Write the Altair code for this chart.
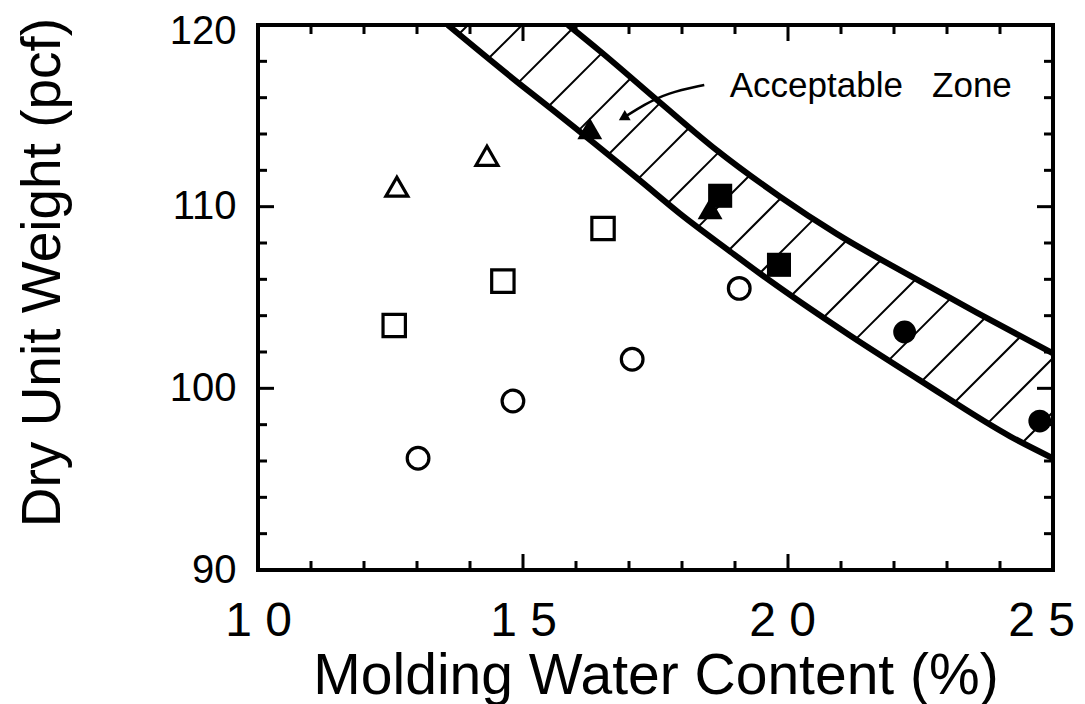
import numpy as np
import pandas as pd
import altair as alt

# ---------------- data ----------------
open_tri_x = [12.62, 14.32]
open_tri_y = [111.1, 112.8]
open_sq_x = [12.57, 14.62, 16.51]
open_sq_y = [103.46, 105.9, 108.8]
open_circ_x = [13.02, 14.81, 17.06, 19.08]
open_circ_y = [96.15, 99.3, 101.6, 105.5]
fill_tri_x = [16.26, 18.53]
fill_tri_y = [114.3, 109.9]
fill_sq_x = [18.72, 19.83]
fill_sq_y = [110.6, 106.8]
fill_circ_x = [22.2, 24.75]
fill_circ_y = [103.1, 98.2]

# boundaries of the "acceptable zone"
lower_x = [13.58, 14.94, 15.57, 17.21, 17.96, 18.91, 19.47, 21.17, 22.49, 24.19, 25.0]
lower_y = [120.0, 116.75, 115.30, 111.43, 109.62, 107.53, 106.32, 102.91, 100.44, 97.36, 96.15]
upper_x = [15.85, 16.45, 17.58, 18.66, 19.85, 20.92, 22.30, 23.57, 25.0]
upper_y = [120.0, 118.57, 115.75, 113.10, 110.55, 108.50, 106.20, 104.15, 101.92]

# annotation
note_text = ["Acceptable\u00a0\u00a0\u00a0Zone"]
note_x = [18.9]
note_y = [116.65]
arrow_x = [18.42, 17.72, 17.28, 16.92]
arrow_y = [116.70, 116.26, 115.60, 114.94]

# axes
x_tick_values = [10, 15, 20, 25]
x_tick_labels = ["1\u00a00", "1\u00a05", "2\u00a00", "2\u00a05"]
y_tick_values = [90, 100, 110, 120]
x_minor = [11, 12, 13, 14, 16, 17, 18, 19, 21, 22, 23, 24]
x_major = [15, 20]
y_minor = [92, 94, 96, 98, 102, 104, 106, 108, 112, 114, 116, 118]
y_major = [100, 110]

# ---------------- layout ----------------
W, H = 795, 545
XMIN, XMAX, YMIN, YMAX = 10, 25, 90, 120
FONT = "Liberation Sans"

# ---------------- hatch lines (45 deg on screen, between the two curves) ----------------
sx = W / (XMAX - XMIN)
sy = H / (YMAX - YMIN)
xs = np.linspace(XMIN, XMAX, 6001)
low = np.interp(xs, lower_x, lower_y, left=np.inf)
top = np.minimum(YMAX, np.interp(xs, upper_x, upper_y, left=YMAX))
hx1, hy1, hx2, hy2 = [], [], [], []
for c in np.arange(210, 1500, 54):
    ly = YMAX - (c - sx * (xs - XMIN)) / sy
    inside = ly >= low
    if not inside.any():
        continue
    i0 = int(np.argmax(inside))
    if ly[i0] >= top[i0] or ly[i0] > YMAX:
        continue
    above = ly[i0:] >= top[i0:]
    i1 = i0 + int(np.argmax(above)) if above.any() else len(xs) - 1
    hx1.append(xs[i0]); hy1.append(ly[i0]); hx2.append(xs[i1]); hy2.append(min(ly[i1], YMAX))
hatch_df = pd.DataFrame({"x": hx1, "y": hy1, "x2": hx2, "y2": hy2})

# ---------------- encodings ----------------
label_expr = " : ".join(
    f"datum.value == {v} ? '{l}'" for v, l in zip(x_tick_values, x_tick_labels)
) + " : datum.label"

xscale = alt.Scale(domain=[XMIN, XMAX], nice=False, zero=False)
yscale = alt.Scale(domain=[YMIN, YMAX], nice=False, zero=False)
xaxis = alt.Axis(values=x_tick_values, labelExpr=label_expr, labelFontSize=48, labelFont=FONT,
                 labelColor="black", labelPadding=27, ticks=False, domain=False, grid=False,
                 labelFlush=False,
                 labelOffset={"condition": [{"test": "datum.value == 20", "value": -6},
                                            {"test": "datum.value == 25", "value": -12}],
                              "value": 0},
                 title="Molding Water Content (%)", titleFontSize=57,
                 titleFont=FONT, titleFontWeight="normal", titleColor="black", titlePadding=3)
yaxis = alt.Axis(values=y_tick_values, labelFontSize=40, labelFont=FONT, labelColor="black",
                 labelPadding=22, ticks=False, domain=False, grid=False, labelFlush=False,
                 labelOffset={"condition": {"test": "datum.value == 120", "value": 6},
                              "value": 0},
                 title="Dry Unit Weight (pcf)", titleFontSize=55, titleFont=FONT,
                 titleFontWeight="normal", titleColor="black", titlePadding=98, titleY=247)


def X(f):
    return alt.X(f"{f}:Q", scale=xscale, axis=xaxis)


def Y(f):
    return alt.Y(f"{f}:Q", scale=yscale, axis=yaxis)


def curve(xv, yv):
    df = pd.DataFrame({"x": xv, "y": yv})
    return alt.Chart(df).mark_line(color="black", strokeWidth=6, interpolate="monotone",
                                   clip=True).encode(x=X("x"), y=Y("y"))


def points(xv, yv, shape, filled, size):
    df = pd.DataFrame({"x": xv, "y": yv})
    if filled:
        m = alt.Chart(df).mark_point(shape=shape, filled=True, color="black", size=size, opacity=1)
    else:
        m = alt.Chart(df).mark_point(shape=shape, filled=False, color="black", strokeWidth=3.2,
                                     size=size, opacity=1)
    return m.encode(x=X("x"), y=Y("y"))


def xticks(vals, L):
    df = pd.DataFrame({"x": vals})
    base = alt.Chart(df).mark_rule(color="black", strokeWidth=3)
    return (base.encode(x=X("x"), y=alt.value(H), y2=alt.value(H - L))
            + base.encode(x=X("x"), y=alt.value(0), y2=alt.value(L)))


def yticks(vals, L):
    df = pd.DataFrame({"y": vals})
    base = alt.Chart(df).mark_rule(color="black", strokeWidth=3)
    return (base.encode(y=Y("y"), x=alt.value(0), x2=alt.value(L))
            + base.encode(y=Y("y"), x=alt.value(W), x2=alt.value(W - L)))


hatch = alt.Chart(hatch_df).mark_rule(color="black", strokeWidth=2, clip=True).encode(
    x=X("x"), y=Y("y"), x2="x2:Q", y2="y2:Q")

arrow_df = pd.DataFrame({"x": arrow_x, "y": arrow_y, "o": list(range(len(arrow_x)))})
arrow_line = alt.Chart(arrow_df).mark_line(color="black", strokeWidth=2.5,
                                           interpolate="basis").encode(
    x=X("x"), y=Y("y"), order="o:Q")
head_df = pd.DataFrame({"x": arrow_x[-1:], "y": arrow_y[-1:]})
arrow_head = alt.Chart(head_df).mark_point(shape="triangle", filled=True, color="black",
                                           size=140, angle=240, opacity=1).encode(
    x=X("x"), y=Y("y"))

note = alt.Chart(pd.DataFrame({"x": note_x, "y": note_y, "t": note_text})).mark_text(
    align="left", baseline="middle", fontSize=35, font=FONT, color="black").encode(
    x=X("x"), y=Y("y"), text="t:N")

chart = alt.layer(
    hatch,
    curve(lower_x, lower_y),
    curve(upper_x, upper_y),
    xticks(x_minor, 9), xticks(x_major, 16),
    yticks(y_minor, 9), yticks(y_major, 16),
    points(open_tri_x, open_tri_y, "triangle-up", False, 480),
    points(open_sq_x, open_sq_y, "square", False, 500),
    points(open_circ_x, open_circ_y, "circle", False, 470),
    points(fill_tri_x, fill_tri_y, "triangle-up", True, 620),
    points(fill_sq_x, fill_sq_y, "square", True, 580),
    points(fill_circ_x, fill_circ_y, "circle", True, 520),
    arrow_line, arrow_head, note,
).properties(
    width=W, height=H,
    autosize=alt.AutoSizeParams(type="none"),
    padding={"left": 250, "top": 17, "right": 24, "bottom": 134},
    background="white",
).configure_view(stroke="black", strokeWidth=4)

chart.save("out.html", embed_options={"renderer": "svg", "actions": False})
